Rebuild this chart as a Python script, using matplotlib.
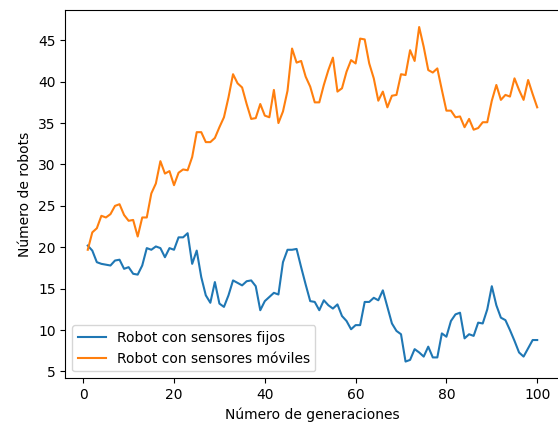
import matplotlib
matplotlib.use('Agg')
import matplotlib.pyplot as plt

# Generaciones 1..100
generaciones = list(range(1, 101))

# Robot con sensores fijos
fijos = [20.2, 19.6, 18.2, 18.0, 17.9, 17.8, 18.4, 18.5, 17.4, 17.6,
         16.8, 16.7, 17.8, 19.9, 19.7, 20.1, 19.9, 18.8, 19.9, 19.7,
         21.2, 21.2, 21.7, 18.0, 19.6, 16.4, 14.2, 13.3, 15.8, 13.2,
         12.8, 14.2, 16.0, 15.7, 15.4, 15.9, 16.0, 15.3, 12.4, 13.5,
         14.0, 14.5, 14.3, 18.2, 19.7, 19.7, 19.8, 17.6, 15.5, 13.5,
         13.4, 12.4, 13.6, 13.0, 12.6, 13.1, 11.7, 11.1, 10.1, 10.6,
         10.6, 13.4, 13.4, 13.9, 13.6, 14.8, 12.8, 10.8, 9.9, 9.5,
         6.2, 6.4, 7.7, 7.3, 6.8, 8.0, 6.7, 6.7, 9.6, 9.2,
         11.1, 11.9, 12.1, 9.0, 9.5, 9.3, 10.9, 10.8, 12.5, 15.3,
         13.0, 11.5, 11.2, 10.0, 8.7, 7.3, 6.8, 7.8, 8.8, 8.8]

# Robot con sensores móviles
moviles = [19.7, 21.8, 22.3, 23.8, 23.6, 24.0, 25.0, 25.2, 23.9, 23.2,
           23.3, 21.3, 23.6, 23.6, 26.5, 27.7, 30.4, 28.9, 29.2, 27.5,
           29.0, 29.4, 29.3, 30.9, 33.9, 33.9, 32.7, 32.7, 33.2, 34.5,
           35.7, 38.1, 40.9, 39.8, 39.3, 37.3, 35.5, 35.6, 37.3, 35.9,
           35.7, 39.0, 35.0, 36.4, 38.9, 44.0, 42.3, 42.5, 40.6, 39.4,
           37.5, 37.5, 39.6, 41.4, 42.9, 38.8, 39.2, 41.2, 42.6, 42.2,
           45.2, 45.1, 42.2, 40.4, 37.7, 38.8, 36.9, 38.3, 38.4, 40.9,
           40.8, 43.8, 42.5, 46.6, 44.2, 41.4, 41.1, 41.6, 39.0, 36.5,
           36.5, 35.7, 35.8, 34.5, 35.5, 34.2, 34.4, 35.1, 35.1, 37.7,
           39.6, 37.8, 38.4, 38.2, 40.4, 39.0, 37.8, 40.2, 38.5, 36.9]

fig = plt.figure(figsize=(5.58, 4.23), dpi=100)
# el borde derecho del gráfico original queda recortado
ax = fig.add_axes([0.117, 0.1057, 0.886, 0.870])

ax.plot(generaciones, fijos, label='Robot con sensores fijos')
ax.plot(generaciones, moviles, label='Robot con sensores móviles')

ax.set_xlabel('Número de generaciones')
ax.set_ylabel('Número de robots')
ax.set_yticks([5, 10, 15, 20, 25, 30, 35, 40, 45])
ax.legend(loc='lower left')

fig.savefig('out.png', dpi=100)
